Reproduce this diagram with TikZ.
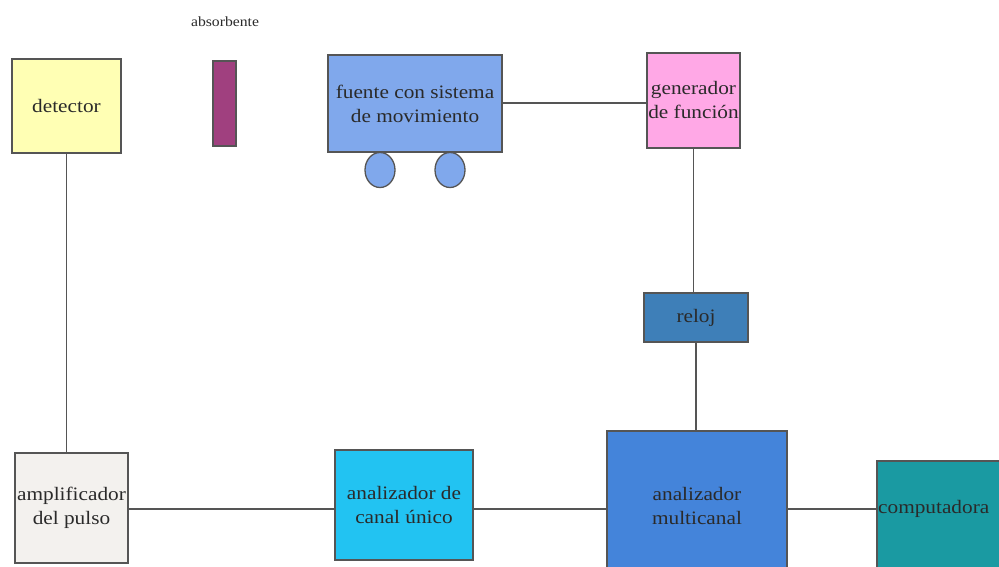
\documentclass[tikz,border=0pt]{standalone}
\usepackage{fontspec}
\usetikzlibrary{shapes.geometric}
\setmainfont{Liberation Serif}[FakeStretch=1.12]
\definecolor{cdet}{HTML}{FFFFB4}
\definecolor{cabs}{HTML}{A0407F}
\definecolor{cfue}{HTML}{80A8EC}
\definecolor{cgen}{HTML}{FFA8E6}
\definecolor{crel}{HTML}{3E7FB8}
\definecolor{cmul}{HTML}{4484DA}
\definecolor{ccom}{HTML}{1A9AA2}
\definecolor{camp}{HTML}{F3F1EE}
\definecolor{ccan}{HTML}{22C3F2}
\definecolor{cline}{HTML}{555555}
\definecolor{ctxt}{HTML}{2A2A2A}
\begin{document}
\begin{tikzpicture}[x=1pt,y=-1pt,
  box/.style={draw=cline,line width=1.3pt,rectangle,inner sep=0pt,align=center,text=ctxt,
     font=\fontsize{19}{24}\selectfont},
  wheel/.style={draw=cline,line width=1.3pt,fill=cfue,ellipse,minimum width=30pt,minimum height=35pt,inner sep=0pt},
  wire/.style={draw=cline,line width=1.3pt}]
\clip (0,0) rectangle (999,567);
\fill[white] (0,0) rectangle (999,567);
\node[box,fill=cdet,minimum width=109pt,minimum height=94pt] (det) at (66.5,106) {detector};
\node[draw=cline,line width=1.3pt,fill=cabs,minimum width=23pt,minimum height=85pt,inner sep=0pt] (abs) at (224.5,103.5) {};
\node[text=ctxt,font=\fontsize{14}{16}\selectfont] (abslbl) at (225,22) {absorbente};
\node[box,fill=cfue,minimum width=174pt,minimum height=97pt] (fue) at (415,103.5) {fuente con sistema\\de movimiento};
\node[wheel] (w1) at (380,170) {};
\node[wheel] (w2) at (450,170) {};
\node[box,fill=cgen,minimum width=93pt,minimum height=95pt] (gen) at (693.5,100.5) {generador\\de función};
\node[box,fill=crel,minimum width=104pt,minimum height=49pt] (rel) at (696,317.5) {reloj};
\node[box,fill=cmul,minimum width=180pt,minimum height=149pt] (mul) at (697,505.5) {analizador\\multicanal};
\node[box,fill=ccom,minimum width=134pt,minimum height=120pt] (com) at (944,521) {};
\node[text=ctxt,font=\fontsize{19}{24}\selectfont,anchor=west,inner sep=0pt] (comlbl) at (878,509) {computadora};
\node[box,fill=camp,minimum width=113pt,minimum height=110pt] (amp) at (71.5,508) {amplificador\\del pulso};
\node[box,fill=ccan,minimum width=138pt,minimum height=110pt] (can) at (404,505) {analizador de\\canal único};
\draw[wire] (det.south) -- (det.south |- amp.north);
\draw[wire] (fue.east |- 0,103) -- (gen.west |- 0,103);
\draw[wire] (gen.south) -- (gen.south |- rel.north);
\draw[wire] (rel.south) -- (rel.south |- mul.north);
\draw[wire] (amp.east |- 0,509) -- (can.west |- 0,509);
\draw[wire] (can.east |- 0,509) -- (mul.west |- 0,509);
\draw[wire] (mul.east |- 0,509) -- (com.west |- 0,509);
\end{tikzpicture}
\end{document}
